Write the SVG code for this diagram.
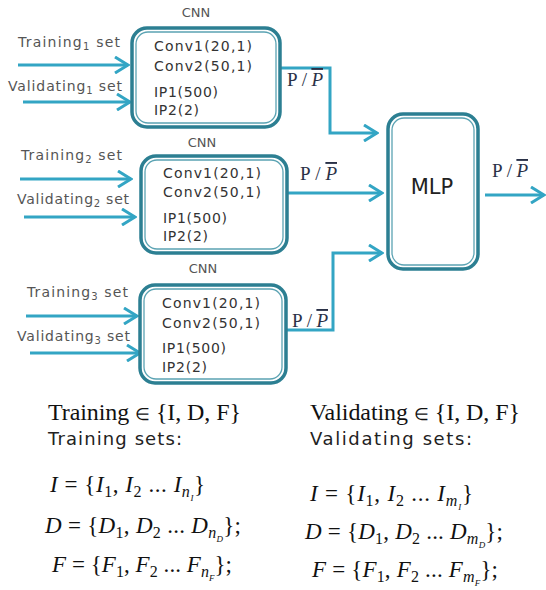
<svg xmlns="http://www.w3.org/2000/svg" width="546" height="590" viewBox="0 0 546 590">
<style>
.bo{fill:#fff;stroke:#2c7f92;stroke-width:3.5}
.bi{fill:none;stroke:#5ba3b3;stroke-width:1.3}
.ln{fill:none;stroke:#33a5c4;stroke-width:3}
.lab{font-family:"DejaVu Sans",sans-serif;font-size:14px;fill:#555}
.cnn{font-family:"DejaVu Sans",sans-serif;font-size:13px;fill:#555}
.bt{font-family:"DejaVu Sans",sans-serif;font-size:14px;fill:#333}
.mlp{font-family:"DejaVu Sans",sans-serif;font-size:21px;fill:#222}
.pp{font-family:"Liberation Serif",serif;font-size:19px;fill:#2a3147}
.ov{text-decoration:overline;font-style:italic}
.hd{font-family:"Liberation Serif",serif;font-size:24px;fill:#111}
.el{font-family:"DejaVu Sans",sans-serif;font-size:17px;font-weight:300}
.sh{font-family:"DejaVu Sans",sans-serif;font-size:18px;fill:#222}
.m{font-family:"Liberation Serif",serif;font-size:23px;fill:#111}
.i{font-style:italic}
</style>
<defs>
<marker id="ah" viewBox="0 0 16 18" refX="14" refY="9" markerWidth="16" markerHeight="18" markerUnits="userSpaceOnUse" orient="auto">
<path d="M1,1 L14,9 L1,17" fill="none" stroke="#33a5c4" stroke-width="3"/>
</marker>
</defs>

<g id="connectors">
<path class="ln" d="M18,65 H128" marker-end="url(#ah)"/>
<path class="ln" d="M23,102 H130" marker-end="url(#ah)"/>
<path class="ln" d="M20,179 H131" marker-end="url(#ah)"/>
<path class="ln" d="M24,217 H135" marker-end="url(#ah)"/>
<path class="ln" d="M26,316 H137" marker-end="url(#ah)"/>
<path class="ln" d="M30,353 H140" marker-end="url(#ah)"/>
<path class="ln" d="M281,68 H330 V133 H377" marker-end="url(#ah)"/>
<path class="ln" d="M288,193 H382" marker-end="url(#ah)"/>
<path class="ln" d="M287,330 H333 V253 H382" marker-end="url(#ah)"/>
<path class="ln" d="M485,195 H544" marker-end="url(#ah)"/>
</g>

<g id="cnn1">
<text class="cnn" x="196" y="17" text-anchor="middle">CNN</text>
<rect class="bo" x="132" y="28" width="148" height="99" rx="15"/>
<rect class="bi" x="136" y="32" width="140" height="91" rx="12"/>
<text class="bt" x="154" y="51" textLength="98">Conv1(20,1)</text>
<text class="bt" x="154" y="71" textLength="98">Conv2(50,1)</text>
<text class="bt" x="154" y="97" textLength="64">IP1(500)</text>
<text class="bt" x="154" y="115" textLength="45">IP2(2)</text>
<text class="lab" x="18" y="47" textLength="102">Training<tspan dy="3" font-size="10">1</tspan><tspan dy="-3"> set</tspan></text>
<text class="lab" x="8" y="91" textLength="114">Validating<tspan dy="3" font-size="10">1</tspan><tspan dy="-3"> set</tspan></text>
</g>

<g id="cnn2">
<text class="cnn" x="202" y="147" text-anchor="middle">CNN</text>
<rect class="bo" x="141" y="156" width="146" height="97" rx="15"/>
<rect class="bi" x="145" y="160" width="138" height="89" rx="12"/>
<text class="bt" x="163" y="178" textLength="98">Conv1(20,1)</text>
<text class="bt" x="163" y="197" textLength="98">Conv2(50,1)</text>
<text class="bt" x="163" y="223" textLength="64">IP1(500)</text>
<text class="bt" x="163" y="241" textLength="45">IP2(2)</text>
<text class="lab" x="21" y="160" textLength="101">Training<tspan dy="3" font-size="10">2</tspan><tspan dy="-3"> set</tspan></text>
<text class="lab" x="17" y="204" textLength="112">Validating<tspan dy="3" font-size="10">2</tspan><tspan dy="-3"> set</tspan></text>
</g>

<g id="cnn3">
<text class="cnn" x="203" y="273" text-anchor="middle">CNN</text>
<rect class="bo" x="140" y="285" width="146" height="98" rx="15"/>
<rect class="bi" x="144" y="289" width="138" height="90" rx="12"/>
<text class="bt" x="162" y="308" textLength="98">Conv1(20,1)</text>
<text class="bt" x="162" y="328" textLength="98">Conv2(50,1)</text>
<text class="bt" x="162" y="353" textLength="64">IP1(500)</text>
<text class="bt" x="162" y="372" textLength="45">IP2(2)</text>
<text class="lab" x="27" y="297" textLength="101">Training<tspan dy="3" font-size="10">3</tspan><tspan dy="-3"> set</tspan></text>
<text class="lab" x="17" y="341" textLength="113">Validating<tspan dy="3" font-size="10">3</tspan><tspan dy="-3"> set</tspan></text>
</g>

<g id="mlp">
<rect class="bo" x="388" y="114" width="90" height="155" rx="15"/>
<rect class="bi" x="392" y="118" width="82" height="147" rx="12"/>
<text class="mlp" x="432" y="194" text-anchor="middle">MLP</text>
</g>

<g id="labels">
<text class="pp" x="287" y="86" textLength="36">P/<tspan class="ov">P</tspan></text>
<text class="pp" x="300" y="180" textLength="37">P/<tspan class="ov">P</tspan></text>
<text class="pp" x="292" y="327" textLength="36">P/<tspan class="ov">P</tspan></text>
<text class="pp" x="492" y="177" textLength="36">P/<tspan class="ov">P</tspan></text>
</g>

<g id="legend">
<text class="hd" x="48" y="420" textLength="193">Training <tspan class="el">∈</tspan>  {I, D, F}</text>
<text class="sh" x="48" y="445" textLength="134">Training sets:</text>
<text class="m" x="50" y="492" textLength="155"><tspan class="i">I</tspan> = {<tspan class="i">I</tspan><tspan dy="5" font-size="16">1</tspan><tspan dy="-5">, </tspan><tspan class="i">I</tspan><tspan dy="5" font-size="16">2</tspan><tspan dy="-5"> ... </tspan><tspan class="i">I</tspan><tspan class="i" dy="5" font-size="16">n</tspan><tspan class="i" dy="4" font-size="9">I</tspan><tspan dy="-9">}</tspan></text>
<text class="m" x="45" y="533" textLength="196"><tspan class="i">D</tspan> = {<tspan class="i">D</tspan><tspan dy="5" font-size="16">1</tspan><tspan dy="-5">, </tspan><tspan class="i">D</tspan><tspan dy="5" font-size="16">2</tspan><tspan dy="-5"> ... </tspan><tspan class="i">D</tspan><tspan class="i" dy="5" font-size="16">n</tspan><tspan class="i" dy="4" font-size="9">D</tspan><tspan dy="-9">};</tspan></text>
<text class="m" x="52" y="572" textLength="180"><tspan class="i">F</tspan> = {<tspan class="i">F</tspan><tspan dy="5" font-size="16">1</tspan><tspan dy="-5">, </tspan><tspan class="i">F</tspan><tspan dy="5" font-size="16">2</tspan><tspan dy="-5"> ... </tspan><tspan class="i">F</tspan><tspan class="i" dy="5" font-size="16">n</tspan><tspan class="i" dy="4" font-size="9">F</tspan><tspan dy="-9">};</tspan></text>

<text class="hd" x="310" y="420" textLength="210">Validating <tspan class="el">∈</tspan>  {I, D, F}</text>
<text class="sh" x="310" y="445" textLength="162">Validating sets:</text>
<text class="m" x="310" y="501" textLength="163"><tspan class="i">I</tspan> = {<tspan class="i">I</tspan><tspan dy="5" font-size="16">1</tspan><tspan dy="-5">, </tspan><tspan class="i">I</tspan><tspan dy="5" font-size="16">2</tspan><tspan dy="-5"> ... </tspan><tspan class="i">I</tspan><tspan class="i" dy="5" font-size="16">m</tspan><tspan class="i" dy="4" font-size="9">I</tspan><tspan dy="-9">}</tspan></text>
<text class="m" x="305" y="539" textLength="198"><tspan class="i">D</tspan> = {<tspan class="i">D</tspan><tspan dy="5" font-size="16">1</tspan><tspan dy="-5">, </tspan><tspan class="i">D</tspan><tspan dy="5" font-size="16">2</tspan><tspan dy="-5"> ... </tspan><tspan class="i">D</tspan><tspan class="i" dy="5" font-size="16">m</tspan><tspan class="i" dy="4" font-size="9">D</tspan><tspan dy="-9">};</tspan></text>
<text class="m" x="312" y="577" textLength="186"><tspan class="i">F</tspan> = {<tspan class="i">F</tspan><tspan dy="5" font-size="16">1</tspan><tspan dy="-5">, </tspan><tspan class="i">F</tspan><tspan dy="5" font-size="16">2</tspan><tspan dy="-5"> ... </tspan><tspan class="i">F</tspan><tspan class="i" dy="5" font-size="16">m</tspan><tspan class="i" dy="4" font-size="9">F</tspan><tspan dy="-9">};</tspan></text>
</g>
</svg>
